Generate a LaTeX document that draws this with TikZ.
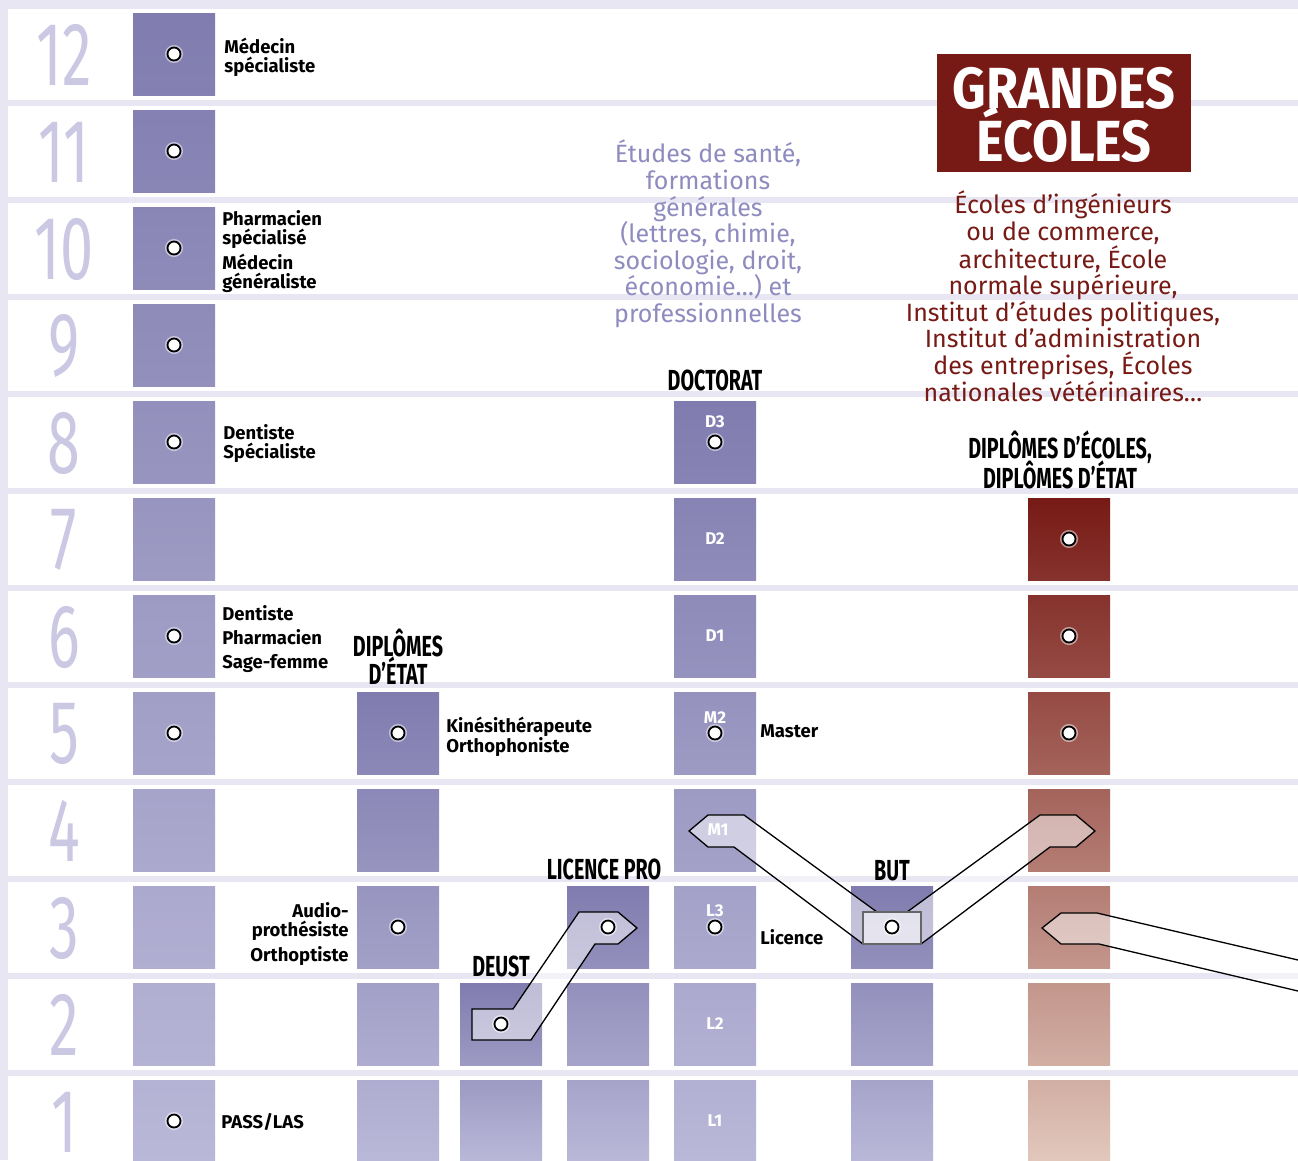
\documentclass[tikz,border=0pt]{standalone}
\usepackage{fontspec}
\setmainfont{Fira Sans}
\usepackage{graphicx}
\usetikzlibrary{positioning}

\definecolor{lavD}{HTML}{807CAF}
\definecolor{lavL}{HTML}{BAB8D8}
\definecolor{redD}{HTML}{771A15}
\definecolor{redL}{HTML}{E2C8BC}
\definecolor{gap}{HTML}{E7E6F2}
\definecolor{numc}{HTML}{CAC8E2}
\definecolor{lavtxt}{HTML}{8E8BBF}

\newcommand\cnd[2][0.68]{\scalebox{#1}[1]{#2}}

\tikzset{
  sq/.style={minimum size=82pt, inner sep=0pt, draw=none},
  dot/.style={circle, fill=white, draw=black, line width=1.8pt, minimum size=13pt, inner sep=0pt,
    preaction={draw=white, draw opacity=0.5, line width=5pt}},
  lbl/.style={font=\fontsize{18.5}{19}\selectfont\bfseries, anchor=west, align=left, inner sep=0pt},
  head/.style={font=\fontsize{29}{26}\selectfont\bfseries, align=center, inner sep=0pt},
  num/.style={font=\fontsize{90}{90}\selectfont, text=numc, inner sep=0pt},
  sqtxt/.style={font=\fontsize{17}{17}\selectfont\bfseries, text=white, inner sep=0pt},
  body/.style={font=\fontsize{25}{26.6}\selectfont, align=center, inner sep=0pt},
  band/.style={fill=white, fill opacity=0.5, draw=black, line width=1.3pt},
}

\begin{document}
\begin{tikzpicture}[x=1pt, y=-1pt]
  \useasboundingbox (0,0) rectangle (1298,1160);
  \clip (0,0) rectangle (1298,1160);

  % background and year rows
  \fill[gap] (0,0) rectangle (1298,1160);
  \foreach \r in {1,...,12}
    \fill[white] (8,{8.5+(12-\r)*97}) rectangle (1298,{99.5+(12-\r)*97});

  % year numbers
  \foreach \r in {1,...,12}
    \node[num] (n\r) at (64,{55+(12-\r)*97}) {\cnd[0.66]{\r}};

  % squares, dark at the top of each column
  \foreach \c/\x/\n/\cd/\cl in {A/174/12/lavD/lavL, B/398/5/lavD/lavL, C/501/2/lavD/lavL,
      D/608/3/lavD/lavL, E/715/8/lavD/lavL, F/892/3/lavD/lavL, G/1069/7/redD/redL}
    \foreach \r in {1,...,\n}{
      \pgfmathtruncatemacro\pa{100*(\n-\r)/\n}
      \pgfmathtruncatemacro\pb{100*(\n-\r+1)/\n}
      \node[sq, top color=\cl!\pa!\cd, bottom color=\cl!\pb!\cd] (\c\r) at (\x,{54+(12-\r)*97}) {};
    }

  % passerelles
  \path[band] (472,1009) -- (513,1009) -- (579,912) -- (618,912) -- (637,928) -- (618,944)
    -- (595,944) -- (531,1040) -- (472,1040) -- cycle;
  \path[band] (689,831) -- (708,815) -- (744,815) -- (877,912) -- (907,912) -- (1040,815)
    -- (1076,815) -- (1095,831) -- (1076,847) -- (1050,847) -- (921,944) -- (863,944)
    -- (734,847) -- (708,847) -- cycle;
  \node[minimum width=58pt, minimum height=32pt, inner sep=0pt, fill=white, fill opacity=0.55,
    draw=black!60, line width=1.3pt] (butr) at (892,928) {};
  \fill[white, fill opacity=0.5] (1298,960) -- (1097,913) -- (1061,913) -- (1042,928)
    -- (1061,944) -- (1099,944) -- (1298,991) -- cycle;
  \draw[line width=1.3pt] (1298,960) -- (1097,913) -- (1061,913) -- (1042,928)
    -- (1061,944) -- (1099,944) -- (1298,991);

  % diplomas
  \foreach \s in {A12,A11,A10,A9,A8,A6,A5,A1,B5,B3,C2,D3,E8,E5,E3,F3,G7,G6,G5}
    \node[dot] (o\s) at (\s) {};

  % LMD labels
  \node[sqtxt, yshift=20pt] (tD3) at (E8) {D3};
  \node[sqtxt] (tD2) at (E7) {D2};
  \node[sqtxt] (tD1) at (E6) {D1};
  \node[sqtxt, yshift=15pt] (tM2) at (E5) {M2};
  \node[sqtxt, xshift=3pt] (tM1) at (E4) {M1};
  \node[sqtxt, yshift=16pt] (tL3) at (E3) {L3};
  \node[sqtxt] (tL2) at (E2) {L2};
  \node[sqtxt] (tL1) at (E1) {L1};

  % professions
  \node[lbl, right=9pt of A12, yshift=-3pt] (medspe) {Médecin\\spécialiste};
  \node[lbl, right=7pt of A10, yshift=18pt] (pharspe) {Pharmacien\\spécialisé};
  \node[lbl, right=7pt of A10, yshift=-25pt] (medgen) {Médecin\\généraliste};
  \node[lbl, right=8pt of A8, yshift=-2pt] (dentspe) {Dentiste\\Spécialiste};
  \node[lbl, right=7pt of A6, yshift=-3pt, font=\fontsize{18.5}{24}\selectfont\bfseries] (dent) {Dentiste\\Pharmacien\\Sage-femme};
  \node[lbl, right=6pt of A1, yshift=-1pt] (pass) {PASS/LAS};
  \node[lbl, right=7pt of B5, yshift=-4pt] (kine) {Kinésithérapeute\\Orthophoniste};
  \node[lbl, left=8pt of B3, align=right, yshift=-7pt] (audio) {Audio-\\prothésiste\\[5pt]Orthoptiste};
  \node[lbl, right=4pt of E5, yshift=2pt] (master) {Master};
  \node[lbl, right=4pt of E3, yshift=-10pt] (lic) {Licence};

  % column headings
  \node[head, above=7pt of B5] (de) {\cnd{DIPLÔMES}\\[-1pt]\cnd{D’ÉTAT}};
  \node[head, above=10pt of E8] (doct) {\cnd{DOCTORAT}};
  \node[head, above=6pt of C2] (deust) {\cnd{DEUST}};
  \node[head, above=6pt of D3, xshift=-4pt] (lpro) {\cnd{LICENCE PRO}};
  \node[head, above=5pt of F3] (but) {\cnd{BUT}};
  \node[head, above=9pt of G7, xshift=-9pt] (dec) {\cnd{DIPLÔMES D’ÉCOLES,}\\[-4pt]\cnd{DIPLÔMES D’ÉTAT}};

  % grandes ecoles
  \node[fill=redD, minimum width=254pt, minimum height=118pt, inner sep=0pt] (ge) at (1064,113) {};
  \node[text=white, inner sep=0pt, align=center,
    font=\fontsize{58}{48}\selectfont\bfseries] (getxt) at (1064,115)
    {\cnd[0.9]{GRANDES}\\[-4pt]\cnd[0.9]{ÉCOLES}};
  \node[body, text=redD] (geliste) at (1063,296) {Écoles d’ingénieurs\\ou de commerce,\\architecture, École\\normale supérieure,\\Institut d’études politiques,\\Institut d’administration\\des entreprises, Écoles\\nationales vétérinaires…};
  \node[body, text=lavtxt] (sante) at (708,234) {Études de santé,\\formations\\générales\\(lettres, chimie,\\sociologie, droit,\\économie…) et\\professionnelles};
\end{tikzpicture}
\end{document}
